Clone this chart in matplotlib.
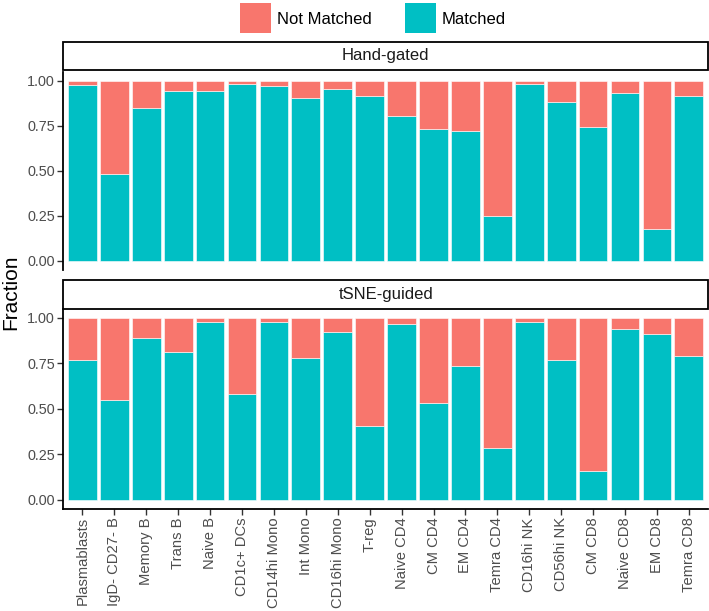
import matplotlib
matplotlib.use("Agg")
import matplotlib.pyplot as plt
from matplotlib.patches import Rectangle
import numpy as np

plt.rcParams['font.family'] = ['Liberation Sans', 'DejaVu Sans']

categories = ["Plasmablasts", "IgD- CD27- B", "Memory B", "Trans B", "Naive B",
              "CD1c+ DCs", "CD14hi Mono", "Int Mono", "CD16hi Mono", "T-reg",
              "Naive CD4", "CM CD4", "EM CD4", "Temra CD4", "CD16hi NK",
              "CD56hi NK", "CM CD8", "Naive CD8", "EM CD8", "Temra CD8"]

hand_gated_matched = [0.976, 0.480, 0.846, 0.944, 0.944, 0.980, 0.970, 0.902, 0.952, 0.915,
                      0.804, 0.730, 0.720, 0.248, 0.980, 0.881, 0.744, 0.933, 0.176, 0.915]
tsne_guided_matched = [0.769, 0.550, 0.887, 0.812, 0.974, 0.581, 0.978, 0.780, 0.922, 0.404,
                       0.967, 0.533, 0.734, 0.282, 0.974, 0.766, 0.157, 0.937, 0.910, 0.790]

panel_titles = ["Hand-gated", "tSNE-guided"]
legend_labels = ["Not Matched", "Matched"]
y_ticks = [0.00, 0.25, 0.50, 0.75, 1.00]
y_tick_labels = ["0.00", "0.25", "0.50", "0.75", "1.00"]

col_not = "#F8766D"
col_match = "#00BFC4"
txt_col = "#4D4D4D"

W, H = 709, 611
fig = plt.figure(figsize=(W / 100, H / 100), dpi=100)

def fx(px):
    return px / W

def fy(py):
    return 1 - py / H

left, right = 63.3, 708
panels = [(71.7, 270.0, 41.7, 70.0), (308.5, 509.0, 280.0, 309.0)]
data = [hand_gated_matched, tsne_guided_matched]

x = np.arange(len(categories))
for i, ((top, bot, st_top, st_bot), vals) in enumerate(zip(panels, data)):
    ax = fig.add_axes([fx(left), fy(bot), fx(right) - fx(left), fy(top) - fy(bot)])
    vals = np.array(vals)
    ax.bar(x, vals, width=0.9, color=col_match, edgecolor='white', linewidth=0.4)
    ax.bar(x, 1 - vals, bottom=vals, width=0.9, color=col_not, edgecolor='white', linewidth=0.4)
    ax.set_xlim(-0.6, len(categories) - 0.4)
    ax.set_ylim(-0.05, 1.05)
    ax.set_yticks(y_ticks)
    ax.set_yticklabels(y_tick_labels, fontsize=10.4, color=txt_col)
    for s in ['top', 'right']:
        ax.spines[s].set_visible(False)
    ax.spines['left'].set_linewidth(1.3)
    ax.tick_params(axis='y', length=4, width=1.0, color='#333333', pad=2)
    if i == 0:
        ax.spines['bottom'].set_visible(False)
        ax.set_xticks([])
    else:
        ax.spines['bottom'].set_linewidth(1.3)
        ax.set_xticks(x)
        ax.set_xticklabels(categories, rotation=90, fontsize=10.6, color=txt_col,
                           ha='center', va='top')
        ax.tick_params(axis='x', length=4, width=1.0, color='#333333', pad=2)
    # strip
    rect = Rectangle((fx(left), fy(st_bot)), fx(right) - fx(left), fy(st_top) - fy(st_bot),
                     transform=fig.transFigure, facecolor='white', edgecolor='black',
                     linewidth=1.3)
    fig.add_artist(rect)
    fig.text(fx((left + right) / 2), fy((st_top + st_bot) / 2), panel_titles[i],
             ha='center', va='center', fontsize=12, color='#1A1A1A')

fig.text(fx(11), fy(292), "Fraction", rotation=90, ha='center', va='center',
         fontsize=15, color='black')

# legend
legend_cols = [col_not, col_match]
key_x = [240.0, 405.0]
text_x = [276.7, 441.7]
for lab, c, kx, tx in zip(legend_labels, legend_cols, key_x, text_x):
    fig.add_artist(Rectangle((fx(kx), fy(33.0)), fx(31) , fy(3.3) - fy(33.0),
                             transform=fig.transFigure, facecolor=c, edgecolor='none'))
    fig.text(fx(tx), fy(19), lab, ha='left', va='center', fontsize=12, color='black')

fig.savefig("out.png", dpi=100)
